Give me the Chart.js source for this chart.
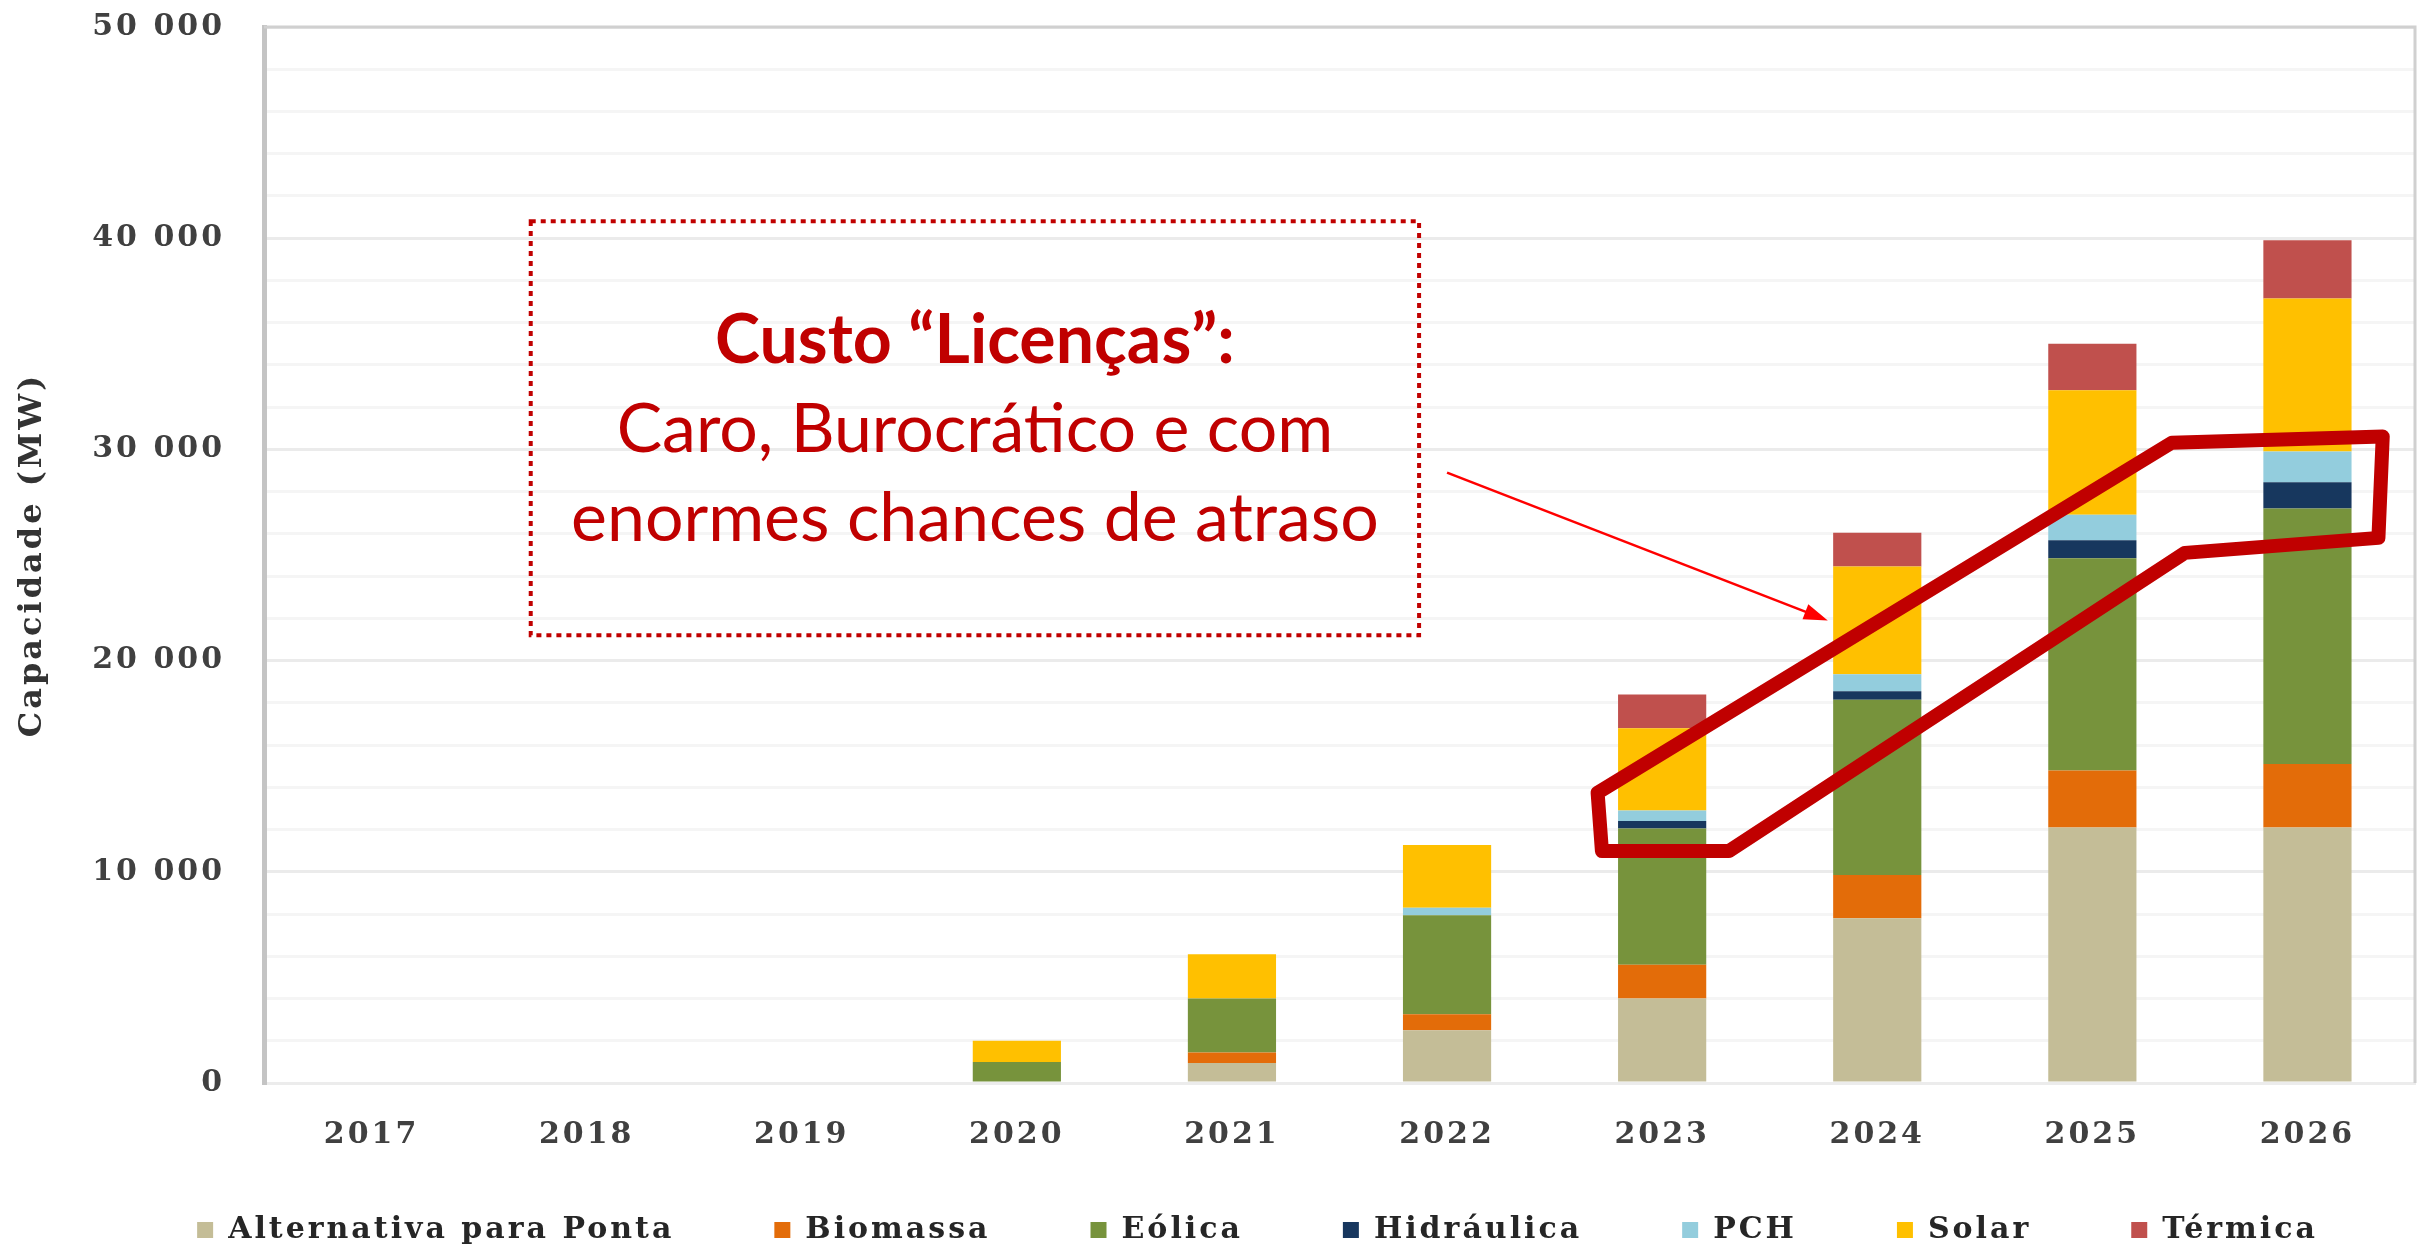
<!DOCTYPE html>
<html lang="pt">
<head>
  <meta charset="UTF-8" />
  <title>Capacidade (MW)</title>
  <script src="https://cdn.jsdelivr.net/npm/chart.js"></script>
  <style>
    html, body { margin: 0; padding: 0; background: #fff; }
    #wrap { width: 2435px; height: 1252px; }
  </style>
</head>
<body>
  <div id="wrap"><canvas id="chart" width="2435" height="1252"></canvas></div>

  <script>
    const years = ['2017', '2018', '2019', '2020', '2021', '2022', '2023', '2024', '2025', '2026'];
    const alternativa = [0, 0, 0, 0, 950, 2500, 4000, 7800, 12100, 12100];
    const biomassa    = [0, 0, 0, 0, 500, 760, 1600, 2050, 2700, 3000];
    const eolica      = [0, 0, 0, 1000, 2550, 4680, 6450, 8300, 10050, 12100];
    const hidraulica  = [0, 0, 0, 0, 0, 0, 350, 400, 850, 1250];
    const pch         = [0, 0, 0, 0, 0, 360, 500, 800, 1200, 1450];
    const solar       = [0, 0, 0, 1000, 2100, 2970, 3900, 5100, 5900, 7250];
    const termica     = [0, 0, 0, 0, 0, 0, 1600, 1600, 2200, 2750];
    const yMax = 50000;

    // callout, in data units (category index, MW)
    const noteBox = { x0: 0.74, x1: 4.87, y0: 21200, y1: 40800 };
    const noteLines = ['Custo \u201cLicen\u00e7as\u201d:', 'Caro, Burocr\u00e1tico e com', 'enormes chances de atraso'];
    const arrowFrom = [5.0, 28900];
    const arrowTo = [6.77, 21900];
    const outline = [[5.70, 13740], [8.37, 30320], [9.35, 30610], [9.33, 25810], [8.43, 25100], [6.31, 10980], [5.72, 10980]];

    const fmt = v => String(v).replace(/\B(?=(\d{3})+(?!\d))/g, ' ');
    const serif = 'DejaVu Serif';
    const spacing = '3px';
    const legendPad = 100;
    const legendFont = 30;

    const overlay = {
      id: 'overlay',
      beforeLayout(chart) { chart.ctx.letterSpacing = spacing; },
      afterLayout(chart) {
        // legend sits closer to the axis than its padding would allow
        const lg = chart.legend;
        const t = chart.chartArea.bottom + 147 - legendPad - legendFont / 2;
        lg.top = t;
        lg.bottom = chart.height;
        lg.height = lg.bottom - lg.top;
        lg.left += 45;
        lg.right += 45;
      },
      beforeDraw(chart) { chart.ctx.letterSpacing = spacing; },
      beforeDatasetsDraw(chart) {
        const { ctx, chartArea: a } = chart;
        ctx.save();
        ctx.strokeStyle = '#d0d0d0';
        ctx.lineWidth = 3;
        ctx.beginPath();
        ctx.moveTo(a.left, a.top);
        ctx.lineTo(a.right, a.top);
        ctx.lineTo(a.right, a.bottom);
        ctx.stroke();
        ctx.restore();
      },
      afterDatasetsDraw(chart) {
        const { ctx, scales: { x, y } } = chart;
        const px = v => x.getPixelForValue(v);
        const py = v => y.getPixelForValue(v);
        ctx.save();
        ctx.letterSpacing = '0px';

        // dotted box
        const bx0 = px(noteBox.x0), bx1 = px(noteBox.x1), by0 = py(noteBox.y1), by1 = py(noteBox.y0);
        ctx.strokeStyle = '#c00000';
        ctx.lineWidth = 4;
        ctx.setLineDash([5, 5]);
        ctx.strokeRect(bx0, by0, bx1 - bx0, by1 - by0);
        ctx.setLineDash([]);

        // text
        const h = by1 - by0, cx = (bx0 + bx1) / 2;
        ctx.fillStyle = '#c00000';
        ctx.textAlign = 'center';
        ctx.textBaseline = 'middle';
        ctx.font = 'bold 68px Lato';
        ctx.fillText(noteLines[0], cx, by0 + h * 0.29);
        ctx.font = '68px Lato';
        ctx.fillText(noteLines[1], cx, by0 + h * 0.505);
        ctx.fillText(noteLines[2], cx, by0 + h * 0.72);

        // arrow
        const ax0 = px(arrowFrom[0]), ay0 = py(arrowFrom[1]);
        const ax1 = px(arrowTo[0]), ay1 = py(arrowTo[1]);
        const ang = Math.atan2(ay1 - ay0, ax1 - ax0);
        ctx.strokeStyle = '#ff0000';
        ctx.fillStyle = '#ff0000';
        ctx.lineWidth = 2.5;
        ctx.beginPath();
        ctx.moveTo(ax0, ay0);
        ctx.lineTo(ax1 - 18 * Math.cos(ang), ay1 - 18 * Math.sin(ang));
        ctx.stroke();
        ctx.beginPath();
        ctx.moveTo(ax1, ay1);
        ctx.lineTo(ax1 - 24 * Math.cos(ang) + 8 * Math.sin(ang), ay1 - 24 * Math.sin(ang) - 8 * Math.cos(ang));
        ctx.lineTo(ax1 - 24 * Math.cos(ang) - 8 * Math.sin(ang), ay1 - 24 * Math.sin(ang) + 8 * Math.cos(ang));
        ctx.closePath();
        ctx.fill();

        // thick outline
        ctx.strokeStyle = '#c00000';
        ctx.lineWidth = 14;
        ctx.lineJoin = 'round';
        ctx.beginPath();
        outline.forEach((p, i) => {
          if (i === 0) ctx.moveTo(px(p[0]), py(p[1]));
          else ctx.lineTo(px(p[0]), py(p[1]));
        });
        ctx.closePath();
        ctx.stroke();

        ctx.restore();
      }
    };

    const mk = (label, data, color) => ({ label, data, backgroundColor: color, borderWidth: 0 });

    new Chart(document.getElementById('chart'), {
      type: 'bar',
      data: {
        labels: years,
        datasets: [
          mk('Alternativa para Ponta', alternativa, '#c4bd97'),
          mk('Biomassa', biomassa, '#e36c09'),
          mk('E\u00f3lica', eolica, '#77933c'),
          mk('Hidr\u00e1ulica', hidraulica, '#17375e'),
          mk('PCH', pch, '#93cddd'),
          mk('Solar', solar, '#ffc000'),
          mk('T\u00e9rmica', termica, '#c0504d')
        ]
      },
      options: {
        responsive: false,
        devicePixelRatio: 1,
        animation: false,
        layout: { padding: { left: 10, right: 20, top: 27, bottom: 0 } },
        datasets: { bar: { categoryPercentage: 1, barPercentage: 0.41 } },
        plugins: {
          tooltip: { enabled: false },
          legend: {
            position: 'bottom',
            maxHeight: 69,
            labels: {
              boxWidth: 16,
              boxHeight: 16,
              padding: legendPad,
              color: '#262626',
              font: { family: serif, size: legendFont, weight: 'bold' }
            }
          }
        },
        scales: {
          x: {
            stacked: true,
            grid: { display: false, drawTicks: false },
            border: { color: '#ececec', width: 3 },
            ticks: { color: '#404040', padding: 34, font: { family: serif, size: 30, weight: 'bold' } },
            afterFit(s) { s.height = 100; }
          },
          y: {
            stacked: true,
            min: 0,
            max: yMax,
            grid: {
              drawTicks: false,
              lineWidth: 3,
              color: c => (c.tick && c.tick.value % 10000 === 0 ? '#ebebeb' : '#f5f5f5')
            },
            border: { color: '#c4c4c4', width: 5 },
            ticks: {
              stepSize: 2000,
              autoSkip: false,
              padding: 39,
              color: '#404040',
              font: { family: serif, size: 30, weight: 'bold' },
              callback: v => (v % 10000 === 0 ? fmt(v) : '')
            },
            title: {
              display: true,
              text: 'Capacidade (MW)',
              color: '#333333',
              padding: { top: 3, bottom: 0 },
              font: { family: serif, size: 32, weight: 'bold' }
            },
            afterFit(s) {
              s.width = 254;
              s.paddingTop = 15;
              s.paddingBottom = 0;
            }
          }
        }
      },
      plugins: [overlay]
    });
  </script>
</body>
</html>
